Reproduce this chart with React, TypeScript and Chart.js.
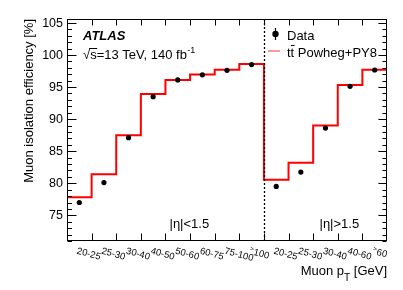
import React, { useEffect, useRef } from "react";
import { Chart, registerables } from "chart.js";

Chart.register(...registerables);

// ---- Data ----
const categoriesLowEta = ["20-25", "25-30", "30-40", "40-50", "50-60", "60-75", "75-100", ">100"];
const categoriesHighEta = ["20-25", "25-30", "30-40", "40-60", ">60"];
const tickLabels = [...categoriesLowEta, ...categoriesHighEta];
const mcEfficiency = [77.8, 81.4, 87.5, 93.9, 96.1, 96.95, 97.7, 98.6, 80.55, 83.2, 89.0, 95.3, 97.7];
const dataEfficiency = [77.0, 80.1, 87.1, 93.5, 96.1, 96.9, 97.6, 98.5, 79.5, 81.75, 88.6, 95.1, 97.65];
const yMajorTicks = [75, 80, 85, 90, 95, 100, 105];
const yMin = 71;
const yMax = 105.6;

const FONT = '"Liberation Sans", Arial, Helvetica, sans-serif';

const framePlugin = {
  id: "rootFrame",
  afterDraw(chart: any) {
    const ctx: CanvasRenderingContext2D = chart.ctx;
    const { left, right, top, bottom } = chart.chartArea;
    const xs = chart.scales.x;
    const ys = chart.scales.y;
    const nBins = tickLabels.length;
    ctx.save();

    // dashed separator between eta regions
    const xSep = Math.round(xs.getPixelForValue(categoriesLowEta.length)) + 0.5;
    ctx.strokeStyle = "#000";
    ctx.lineWidth = 1.3;
    ctx.setLineDash([2, 2]);
    ctx.beginPath();
    ctx.moveTo(xSep, top);
    ctx.lineTo(xSep, bottom);
    ctx.stroke();
    ctx.setLineDash([]);

    // frame
    ctx.lineWidth = 1;
    ctx.strokeStyle = "#000";
    const L = Math.round(left) + 0.5;
    const R = Math.round(right) - 0.5;
    const T = Math.round(top) + 0.5;
    const B = Math.round(bottom) - 0.5;
    ctx.strokeRect(L, T, R - L, B - T);

    // y ticks (left & right)
    ctx.beginPath();
    for (let v = Math.ceil(yMin); v <= Math.floor(yMax); v++) {
      const y = Math.round(ys.getPixelForValue(v)) + 0.5;
      const major = yMajorTicks.includes(v);
      const len = major ? 9 : 4.5;
      ctx.moveTo(L, y);
      ctx.lineTo(L + len, y);
      ctx.moveTo(R, y);
      ctx.lineTo(R - len * 0.9, y);
    }
    // x ticks at bin edges
    for (let i = 1; i < nBins; i++) {
      const x = Math.round(xs.getPixelForValue(i)) + 0.5;
      ctx.moveTo(x, B);
      ctx.lineTo(x, B - 7);
      ctx.moveTo(x, T);
      ctx.lineTo(x, T + 6);
    }
    ctx.stroke();

    ctx.fillStyle = "#000";
    // y tick labels
    ctx.font = `12.5px ${FONT}`;
    ctx.textAlign = "right";
    ctx.textBaseline = "middle";
    yMajorTicks.forEach((v) => {
      ctx.fillText(String(v), left - 4, ys.getPixelForValue(v) + 0.5);
    });

    // x tick labels (rotated clockwise)
    ctx.textAlign = "left";
    ctx.textBaseline = "alphabetic";
    tickLabels.forEach((lab, i) => {
      const cx = xs.getPixelForValue(i + 0.5);
      ctx.save();
      ctx.translate(cx - 3, bottom + 12.5);
      ctx.rotate((15 * Math.PI) / 180);
      if (lab.startsWith(">")) {
        ctx.font = `7px ${FONT}`;
        ctx.fillText(">", 0, -3);
        const w = ctx.measureText(">").width;
        ctx.font = `9.5px ${FONT}`;
        ctx.fillText(lab.slice(1), w + 0.5, 0);
      } else {
        ctx.font = `9.5px ${FONT}`;
        ctx.fillText(lab, 0, 0);
      }
      ctx.restore();
    });

    // x axis title: Muon p_T [GeV], right aligned
    ctx.font = `13px ${FONT}`;
    const p1 = "Muon p";
    const p3 = " [GeV]";
    const w1 = ctx.measureText(p1).width;
    const w3 = ctx.measureText(p3).width;
    ctx.font = `10px ${FONT}`;
    const w2 = ctx.measureText("T").width;
    let xStart = right - (w1 + w2 + w3);
    ctx.font = `13px ${FONT}`;
    ctx.fillText(p1, xStart, 274.5);
    ctx.font = `10px ${FONT}`;
    ctx.fillText("T", xStart + w1, 280.5);
    ctx.font = `13px ${FONT}`;
    ctx.fillText(p3, xStart + w1 + w2, 274.5);

    // y axis title
    ctx.save();
    ctx.translate(33, top);
    ctx.rotate(-Math.PI / 2);
    ctx.textAlign = "right";
    ctx.font = `13px ${FONT}`;
    ctx.fillText("Muon isolation efficiency [%]", 0, 0);
    ctx.restore();

    // ATLAS label
    ctx.textAlign = "left";
    ctx.font = `italic bold 13px ${FONT}`;
    ctx.fillText("ATLAS", 83, 39.5);
    ctx.font = `13px ${FONT}`;
    const energy = "\u221As=13 TeV, 140 fb";
    ctx.fillText(energy, 83, 59);
    const wSqrt = ctx.measureText("\u221A").width;
    const wSqrtS = ctx.measureText("\u221As").width;
    const wEnergy = ctx.measureText(energy).width;
    ctx.lineWidth = 1;
    ctx.beginPath();
    ctx.moveTo(83 + wSqrt - 1, 48.5);
    ctx.lineTo(83 + wSqrtS + 0.5, 48.5);
    ctx.stroke();
    ctx.font = `9px ${FONT}`;
    ctx.fillText("-1", 83 + wEnergy + 0.5, 53);

    // legend
    ctx.lineWidth = 1.2;
    ctx.beginPath();
    ctx.moveTo(275.5, 28);
    ctx.lineTo(275.5, 40);
    ctx.stroke();
    ctx.beginPath();
    ctx.arc(275.5, 34, 3.2, 0, Math.PI * 2);
    ctx.fill();
    ctx.font = `13px ${FONT}`;
    ctx.fillText("Data", 287, 39.5);
    ctx.strokeStyle = "rgba(255,0,0,0.55)";
    ctx.lineWidth = 1.5;
    ctx.beginPath();
    ctx.moveTo(268, 51);
    ctx.lineTo(280, 51);
    ctx.stroke();
    const mcLabel = "tt Powheg+PY8";
    ctx.fillText(mcLabel, 287, 56.5);
    const wt = ctx.measureText("t").width;
    ctx.strokeStyle = "#000";
    ctx.lineWidth = 1;
    ctx.beginPath();
    ctx.moveTo(287 + wt + 0.3, 45.5);
    ctx.lineTo(287 + 2 * wt + 0.3, 45.5);
    ctx.stroke();

    // eta region labels
    ctx.fillText("|\u03B7|<1.5", 169.5, 227.5);
    ctx.fillText("|\u03B7|>1.5", 319.5, 227.5);

    ctx.restore();
  },
};

export default function App() {
  const canvasRef = useRef<HTMLCanvasElement | null>(null);

  useEffect(() => {
    if (!canvasRef.current) return;
    const stepPoints = mcEfficiency.map((v, i) => ({ x: i, y: v }));
    stepPoints.push({ x: mcEfficiency.length, y: mcEfficiency[mcEfficiency.length - 1] });
    const dataPoints = dataEfficiency.map((v, i) => ({ x: i + 0.5, y: v }));

    const chart = new Chart(canvasRef.current, {
      type: "line",
      data: {
        datasets: [
          {
            type: "scatter",
            label: "Data",
            data: dataPoints,
            pointRadius: 2.6,
            pointBackgroundColor: "#000",
            pointBorderColor: "#000",
            pointBorderWidth: 0,
            showLine: false,
            order: 0,
          } as any,
          {
            type: "line",
            label: "tt Powheg+PY8",
            data: stepPoints,
            stepped: "before",
            borderColor: "rgb(255,0,0)",
            borderWidth: 2,
            pointRadius: 0,
            fill: false,
            tension: 0,
            borderJoinStyle: "miter",
            order: 1,
          } as any,
        ],
      },
      options: {
        responsive: false,
        animation: false,
        devicePixelRatio: 1,
        layout: { padding: { left: 67, right: 16, top: 19, bottom: 49 } },
        scales: {
          x: { type: "linear", min: 0, max: tickLabels.length, display: false },
          y: { type: "linear", min: yMin, max: yMax, display: false },
        },
        plugins: {
          legend: { display: false },
          tooltip: { enabled: false },
        },
        events: [],
      },
      plugins: [framePlugin],
    });
    return () => chart.destroy();
  }, []);

  return (
    <div
      style={{
        position: "fixed",
        left: 0,
        top: 0,
        width: 403,
        height: 290,
        background: "#fff",
      }}
    >
      <canvas ref={canvasRef} width={403} height={290} style={{ width: 403, height: 290, display: "block" }} />
    </div>
  );
}
